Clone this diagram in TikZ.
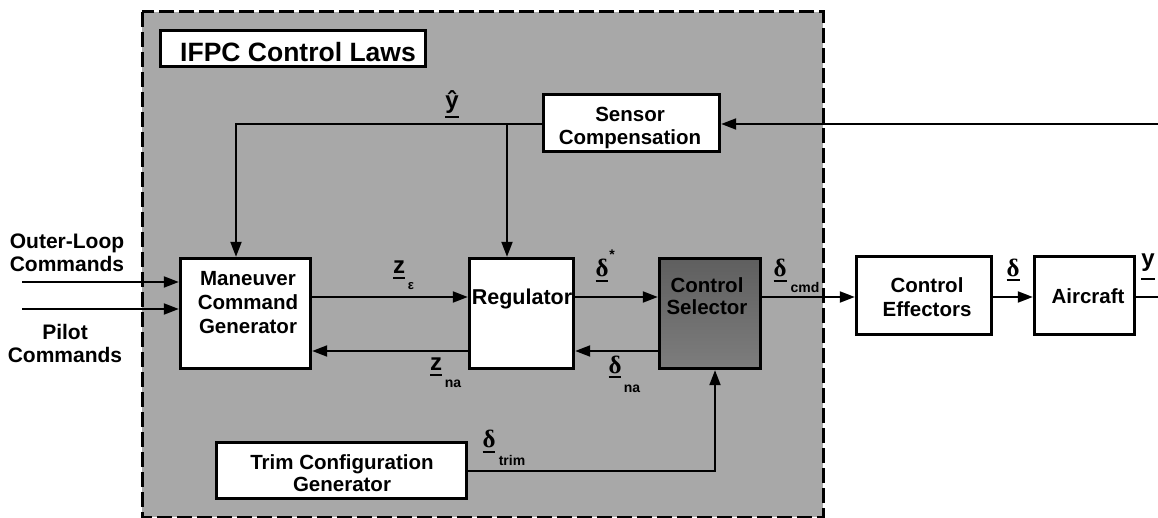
\documentclass[tikz,border=0pt]{standalone}
\usepackage{fontspec}
\setmainfont{Liberation Sans}
\newfontfamily\grk{Liberation Serif}
\usetikzlibrary{arrows.meta}
\definecolor{lawgray}{RGB}{168,168,168}
\definecolor{csdark}{RGB}{95,95,95}
\definecolor{cslight}{RGB}{125,125,125}
\newcommand\ulbox[2]{\setbox0\hbox{#2}\rlap{\rule[-#1]{\wd0}{2pt}}\box0}
\begin{document}
\begin{tikzpicture}[x=1pt,y=-1pt,
 box/.style={draw=black, line width=3.4pt, fill=white, inner sep=0pt},
 lbl/.style={font=\bfseries\fontsize{20.5}{23}\selectfont, align=center, inner sep=0pt},
 side/.style={font=\bfseries\fontsize{21}{23}\selectfont, align=center, inner sep=0pt},
 arr/.style={line width=2pt, -{Triangle[length=15pt,width=11pt]}},
 wire/.style={line width=2pt},
 sym/.style={font=\bfseries\fontsize{24}{24}\selectfont, inner sep=0pt, anchor=base},
 gsym/.style={font=\grk\bfseries\fontsize{25}{25}\selectfont, inner sep=0pt, anchor=base},
 sub/.style={font=\bfseries\fontsize{14}{14}\selectfont, inner sep=0pt, anchor=base},
]
\useasboundingbox (0,0) rectangle (1158,518);
% control-law region
\fill[lawgray] (142,12) rectangle (823,517);
\draw[line width=3pt, dash pattern=on 15pt off 5pt] (142,12) rectangle (823,517);

% blocks
\node[box, minimum width=265pt, minimum height=36pt] (title) at (293,48.5) {};
\node[lbl, font=\bfseries\fontsize{26.5}{26}\selectfont, anchor=base] (titlet) at (298,62) {IFPC Control Laws};

\node[box, minimum width=176pt, minimum height=57pt] (sensor) at (631.5,123) {};
\node[lbl] (sensort) at (630,128) {Sensor\\Compensation};

\node[box, minimum width=130pt, minimum height=110pt] (mcg) at (245.5,313.5) {};
\node[lbl, font=\bfseries\fontsize{20.5}{24}\selectfont] (mcgt) at (248,303) {Maneuver\\Command\\Generator};

\node[box, minimum width=104pt, minimum height=110pt] (reg) at (521.5,313.5) {};
\node[lbl, font=\bfseries\fontsize{21.5}{23}\selectfont, anchor=base] (regt) at (522,305) {Regulator};

\node[box, minimum width=101pt, minimum height=110pt, top color=csdark, bottom color=cslight] (cs) at (710,313.5) {};
\node[lbl, text=black, font=\bfseries\fontsize{20.5}{22}\selectfont] (cst) at (707,296) {Control\\Selector};

\node[box, minimum width=135pt, minimum height=78pt] (ce) at (924,295.5) {};
\node[lbl, font=\bfseries\fontsize{20.5}{24}\selectfont] (cet) at (927,297) {Control\\Effectors};

\node[box, minimum width=100pt, minimum height=78pt] (ac) at (1084.5,295.5) {};
\node[lbl, anchor=base] (act) at (1088,304) {Aircraft};

\node[box, minimum width=250pt, minimum height=56pt] (trim) at (341.5,470.5) {};
\node[lbl, font=\bfseries\fontsize{20.5}{22}\selectfont] (trimt) at (342,473) {Trim Configuration\\Generator};

% outside inputs
\node[side] (olt) at (67,253) {Outer-Loop\\Commands};
\node[side] (pct) at (65,343.5) {Pilot\\Commands};

% routing points
\coordinate (yin) at (1158,124);
\coordinate (fb) at (236,124);
\coordinate (br) at (507,124);
\coordinate (olin) at (22,282);
\coordinate (pcin) at (22,309);
\coordinate (ra) at (0,297);
\coordinate (rb) at (0,351);
\coordinate (tc) at (715,471);
\coordinate (yout) at (1158,297);

% connectors
\draw[arr] (yin) -- (sensor.east |- yin);
\draw[arr] (sensor.west |- fb) -- (fb) -- (fb |- mcg.north);
\draw[arr] (br) -- (br |- reg.north);
\draw[arr] (olin) -- (olin -| mcg.west);
\draw[arr] (pcin) -- (pcin -| mcg.west);
\draw[arr] (mcg.east |- ra) -- (reg.west |- ra);
\draw[arr] (reg.west |- rb) -- (mcg.east |- rb);
\draw[arr] (reg.east |- ra) -- (cs.west |- ra);
\draw[arr] (cs.west |- rb) -- (reg.east |- rb);
\draw[arr] (cs.east |- ra) -- (ce.west |- ra);
\draw[arr] (ce.east |- ra) -- (ac.west |- ra);
\draw[wire] (ac.east |- ra) -- (yout);
\draw[arr] (trim.east |- tc) -- (tc) -- (tc |- cs.south);

% signal labels
\node[sym] (lyhat) at (452,109) {\ulbox{9pt}{ŷ}};
\node[sym] (lze) at (399,274) {\ulbox{5pt}{z}};
\node[font=\bfseries\fontsize{13}{13}\selectfont, inner sep=0pt, anchor=base] (lzes) at (411,290) {ε};
\node[gsym] (lds) at (602,277) {\ulbox{5pt}{δ}};
\node[sub] (ldss) at (612,260) {*};
\node[gsym] (ldc) at (780,277) {\ulbox{5pt}{δ}};
\node[sub] (ldcs) at (805,293) {cmd};
\node[sym] (lzn) at (436,370) {\ulbox{6pt}{z}};
\node[sub] (lzns) at (453,387) {na};
\node[gsym] (ldn) at (615,373) {\ulbox{5pt}{δ}};
\node[sub] (ldns) at (632,392) {na};
\node[gsym] (ldt) at (489,447) {\ulbox{6pt}{δ}};
\node[sub] (ldts) at (512,465) {trim};
\node[gsym] (ld) at (1013,277) {\ulbox{4pt}{δ}};
\node[sym] (ly) at (1148,267) {\ulbox{13pt}{y}};
\end{tikzpicture}
\end{document}
